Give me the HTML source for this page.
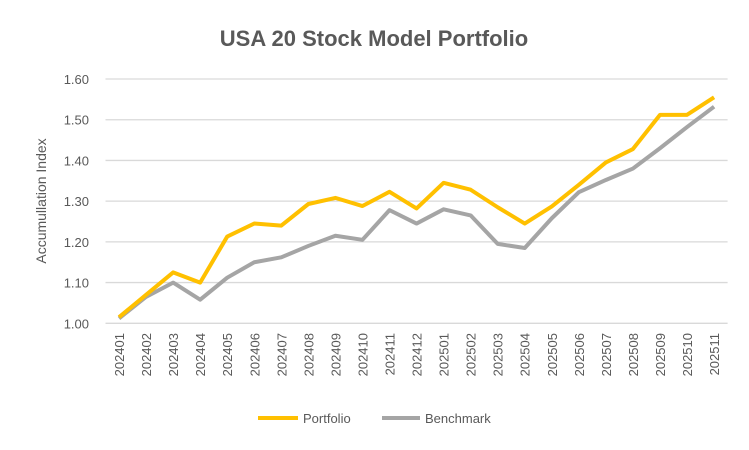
<!DOCTYPE html>
<html><head><meta charset="utf-8">
<style>
html,body{margin:0;padding:0;background:#fff;}
svg{display:block;font-family:"Liberation Sans",sans-serif;}
</style></head>
<body>
<svg id="chart" width="749" height="450" viewBox="0 0 749 450">
<rect width="749" height="450" fill="#fff"/>
<text x="374" y="46" text-anchor="middle" font-size="22" font-weight="bold" fill="#595959">USA 20 Stock Model Portfolio</text>
<text transform="translate(46,201) rotate(-90)" text-anchor="middle" font-size="14" fill="#595959">Accumullation Index</text>
<g id="grid"></g>
<g id="yticks"></g>
<g id="xticks"></g>
<g id="series"></g>
<g>
<line x1="258" y1="418" x2="298" y2="418" stroke="#FFC000" stroke-width="4"/>
<text x="303" y="423" font-size="13" fill="#595959">Portfolio</text>
<line x1="382" y1="418" x2="420" y2="418" stroke="#A5A5A5" stroke-width="4"/>
<text x="425" y="423" font-size="13" fill="#595959">Benchmark</text>
</g>
</svg>
<script>
const categories=["202401","202402","202403","202404","202405","202406","202407","202408","202409","202410","202411","202412","202501","202502","202503","202504","202505","202506","202507","202508","202509","202510","202511"];
const portfolio=[1.015,1.07,1.125,1.10,1.213,1.245,1.240,1.293,1.308,1.288,1.323,1.282,1.345,1.328,1.285,1.245,1.287,1.340,1.395,1.428,1.512,1.512,1.555];
const benchmark=[1.012,1.065,1.10,1.058,1.112,1.15,1.162,1.19,1.215,1.205,1.278,1.245,1.28,1.265,1.195,1.185,1.258,1.322,1.352,1.38,1.43,1.482,1.532];
const yTicks=[1.00,1.10,1.20,1.30,1.40,1.50,1.60];
const NS="http://www.w3.org/2000/svg";
const L=105.5,R=727.6,Y0=323.3,Y1=79;
const yMin=1.0,yMax=1.6;
function y(v){return Y0-(v-yMin)/(yMax-yMin)*(Y0-Y1);}
function x(i){const b=(R-L)/categories.length;return L+b*(i+0.5);}
function mk(tag,attrs,parent){const e=document.createElementNS(NS,tag);for(const k in attrs)e.setAttribute(k,attrs[k]);parent.appendChild(e);return e;}
const grid=document.getElementById('grid'),yt=document.getElementById('yticks'),xt=document.getElementById('xticks'),ser=document.getElementById('series');
yTicks.forEach(v=>{
 const l=mk('line',{x1:L,x2:R,y1:y(v),y2:y(v),stroke:'#D9D9D9','stroke-width':1.3},grid);
 
 
 const t=mk('text',{x:89,y:y(v)+5,'text-anchor':'end','font-size':13,fill:'#595959'},yt);
 t.textContent=v.toFixed(2);
 
 
});
categories.forEach((c,i)=>{
 const t=mk('text',{transform:`translate(${x(i)+5},333) rotate(-90)`,'text-anchor':'end','font-size':13,fill:'#595959'},xt);
 t.textContent=c;
 
 
});
function line(data,color,name){
 const p=mk('polyline',{points:data.map((v,i)=>x(i)+','+y(v)).join(' '),fill:'none',stroke:color,'stroke-width':4,'stroke-linejoin':'round'},ser);
 
 
}
line(benchmark,'#A5A5A5','benchmark-line');
line(portfolio,'#FFC000','portfolio-line');
</script>
</body></html>
